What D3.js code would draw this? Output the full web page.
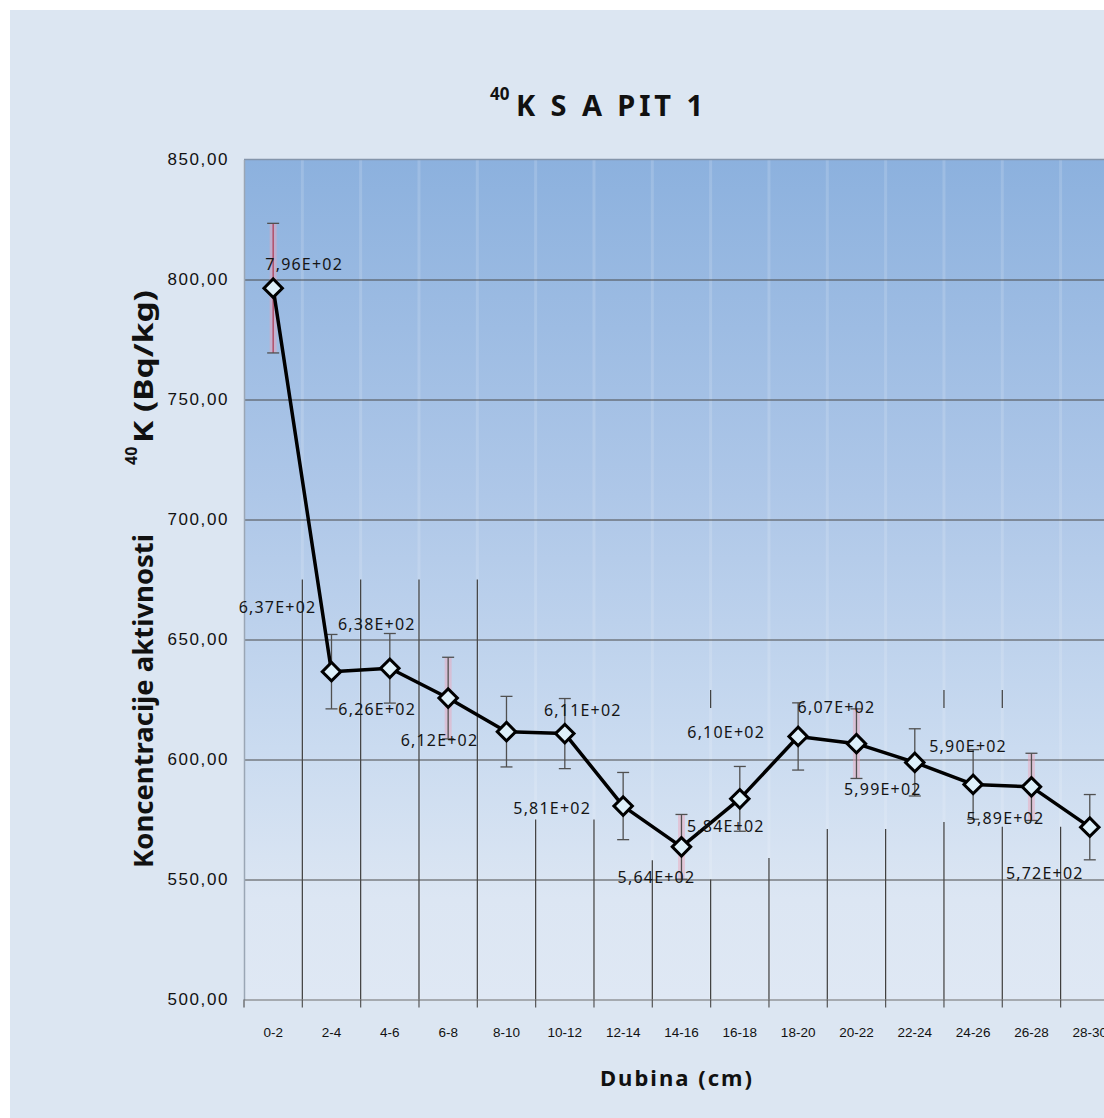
<!DOCTYPE html>
<html>
<head>
<meta charset="utf-8">
<script src="https://cdn.jsdelivr.net/npm/d3@7"></script>
<style>
  body { margin:0; background:#fff; }
  svg { display:block; font-family: "Noto Sans", "Open Sans", sans-serif; }
</style>
</head>
<body>
<div id="chart"></div>
<script>
// depth intervals and 40K activity (Bq/kg) with uncertainties
var depths = ["0-2","2-4","4-6","6-8","8-10","10-12","12-14","14-16","16-18","18-20","20-22","22-24","24-26","26-28","28-30"];
var activity = [796.4, 636.6, 638.0, 625.6, 611.6, 610.8, 580.6, 563.6, 583.6, 609.6, 606.6, 598.8, 589.6, 588.6, 571.8];
var uncertainty = [27, 15.5, 14.5, 17, 14.7, 14.6, 14, 13.5, 13.5, 14, 14.5, 14, 14.5, 14, 13.6];
var yTicks = [500, 550, 600, 650, 700, 750, 800, 850];

// label placement relative to each point (dx centre, dy baseline)
var labelOffset = [[31,-18],[-54,-59],[-13,-38],[-71,17],[-67,14],[18,-18],[-71,8],[-25,36],[-14,33],[-72,2],[-20,-31],[-32,33],[-5,-32],[-26,37],[-45,52]];
// where the darker vertical grid lines start (in data units), one per inner boundary
var vGridFrom = [675, 675, 675, 675, 575, 575, 558, 550, 559, 571, 571, 574, 572, 572];
var pinkBars = [0, 3, 7, 10, 13];

var W = 1104, H = 1118;
var margin = {top:159.5, left:244};
var bandW = 58.33;
var plotW = bandW * depths.length;
var plotB = 999.5;

var svg = d3.select("#chart").append("svg")
  .attr("width", W)
  .attr("height", H);

var defs = svg.append("defs");
var grad = defs.append("linearGradient")
  .attr("id","plotBg")
  .attr("x1",0).attr("y1",0).attr("x2",0).attr("y2",1);
grad.append("stop").attr("offset","0%").attr("stop-color","#8cb1de");
grad.append("stop").attr("offset","40%").attr("stop-color","#aec7e8");
grad.append("stop").attr("offset","70%").attr("stop-color","#cadbf0");
grad.append("stop").attr("offset","88%").attr("stop-color","#dce6f3");
grad.append("stop").attr("offset","100%").attr("stop-color","#dfe8f4");

// chart area
svg.append("rect")
  .attr("x",10).attr("y",10)
  .attr("width",W).attr("height",H)
  .attr("fill","#dce6f2");

var x = d3.scaleBand()
  .domain(depths)
  .range([margin.left, margin.left + plotW]);

var y = d3.scaleLinear()
  .domain([500, 850])
  .range([plotB, margin.top]);

svg.append("rect")
  .attr("x", margin.left).attr("y", margin.top)
  .attr("width", plotW).attr("height", plotB - margin.top)
  .attr("fill","url(#plotBg)");

var bounds = depths.slice(1).map(function(d){ return x(d); });

// faint light gridlines
svg.append("g").selectAll("line")
  .data(bounds)
  .enter().append("line")
  .attr("x1", function(d){ return d; })
  .attr("x2", function(d){ return d; })
  .attr("y1", margin.top)
  .attr("y2", plotB)
  .style("stroke","#ffffff")
  .style("stroke-opacity",0.15)
  .style("stroke-width",3);

// darker vertical gridlines (lower part)
svg.append("g").selectAll("line")
  .data(bounds)
  .enter().append("line")
  .attr("x1", function(d){ return d; })
  .attr("x2", function(d){ return d; })
  .attr("y1", function(d,i){ return y(vGridFrom[i]); })
  .attr("y2", plotB)
  .style("stroke","#3c3c3c")
  .style("stroke-width",1.2);

// short fragments
svg.append("g").selectAll("line")
  .data([7, 11, 12])
  .enter().append("line")
  .attr("x1", function(d){ return bounds[d]; })
  .attr("x2", function(d){ return bounds[d]; })
  .attr("y1", y(629))
  .attr("y2", y(621.5))
  .style("stroke","#3c3c3c")
  .style("stroke-width",1.2);

// horizontal gridlines
var hGrid = svg.append("g")
  .attr("transform","translate(" + margin.left + ",0)")
  .call(d3.axisLeft(y).tickValues(yTicks.slice(1, -1)).tickSize(-plotW).tickFormat(""));
hGrid.select(".domain").remove();
hGrid.selectAll(".tick line").style("stroke","#4a4a4a").style("stroke-width",1);

// top border
svg.append("line")
  .attr("x1", margin.left).attr("x2", margin.left + plotW)
  .attr("y1", y(850)).attr("y2", y(850))
  .style("stroke","#8495ab").style("stroke-width",1.5);

// y axis
var yAxis = svg.append("g")
  .attr("transform","translate(" + margin.left + ",0)")
  .call(d3.axisLeft(y).tickValues(yTicks).tickSize(0).tickPadding(15)
    .tickFormat(function(d){ return d.toFixed(2).replace(".", ","); }));
yAxis.select(".domain").style("stroke","#9aa6b5").style("stroke-width",1.5);
yAxis.selectAll("text")
  .style("font-size","17px")
  .style("letter-spacing","1.6px")
  .style("fill","#111");

// x axis
var xAxis = svg.append("g")
  .attr("transform","translate(0," + plotB + ")")
  .call(d3.axisBottom(x).tickSize(0).tickPadding(28));
xAxis.select(".domain").style("stroke","#6f6f6f").style("stroke-width",1.2);
xAxis.selectAll("text")
  .style("font-size","13.5px")
  .style("fill","#111");

svg.append("g").selectAll("line")
  .data([margin.left].concat(bounds))
  .enter().append("line")
  .attr("x1", function(d){ return d; })
  .attr("x2", function(d){ return d; })
  .attr("y1", plotB)
  .attr("y2", plotB + 8)
  .style("stroke","#555")
  .style("stroke-width",1.2);

var cx = function(i){ return x(depths[i]) + x.bandwidth() / 2; };

// error bars
var errG = svg.append("g");
errG.selectAll(".glow")
  .data(pinkBars)
  .enter().append("line")
  .attr("x1", function(i){ return cx(i); })
  .attr("x2", function(i){ return cx(i); })
  .attr("y1", function(i){ return y(activity[i] + uncertainty[i]); })
  .attr("y2", function(i){ return y(activity[i] - uncertainty[i]); })
  .style("stroke","#f0a4b8")
  .style("stroke-opacity",0.45)
  .style("stroke-width",7);

var bars = errG.selectAll(".bar")
  .data(activity)
  .enter().append("g");
bars.append("line")
  .attr("x1", function(d,i){ return cx(i); })
  .attr("x2", function(d,i){ return cx(i); })
  .attr("y1", function(d,i){ return y(d + uncertainty[i]); })
  .attr("y2", function(d,i){ return y(d - uncertainty[i]); })
  .style("stroke", function(d,i){ return i === 0 ? "#b0405a" : "#505050"; })
  .style("stroke-width",1.3);
[1, -1].forEach(function(s){
  bars.append("line")
    .attr("x1", function(d,i){ return cx(i) - 6; })
    .attr("x2", function(d,i){ return cx(i) + 6; })
    .attr("y1", function(d,i){ return y(d + s * uncertainty[i]); })
    .attr("y2", function(d,i){ return y(d + s * uncertainty[i]); })
    .style("stroke","#505050")
    .style("stroke-width",1.3);
});

// line
var line = d3.line()
  .x(function(d,i){ return cx(i); })
  .y(function(d){ return y(d); });

svg.append("path")
  .datum(activity)
  .attr("d", line)
  .style("fill","none")
  .style("stroke","#000")
  .style("stroke-width",3.5)
  .style("stroke-linejoin","round");

// diamond markers
svg.append("g").selectAll("path")
  .data(activity)
  .enter().append("path")
  .attr("d", d3.symbol().type(d3.symbolSquare).size(170))
  .attr("transform", function(d,i){ return "translate(" + cx(i) + "," + y(d) + ") rotate(45)"; })
  .style("fill","#def0fa")
  .style("stroke","#000")
  .style("stroke-width",3);

// data labels
var fmt = function(v){
  var p = v.toExponential(2).split("e");
  var e = +p[1];
  return p[0].replace(".", ",") + "E" + (e < 0 ? "-" : "+") + String(Math.abs(e)).padStart(2, "0");
};

svg.append("g").selectAll("text")
  .data(activity)
  .enter().append("text")
  .attr("x", function(d,i){ return cx(i) + labelOffset[i][0]; })
  .attr("y", function(d,i){ return y(d) + labelOffset[i][1]; })
  .attr("text-anchor","middle")
  .style("font-size","16px")
  .style("letter-spacing","1.2px")
  .style("fill","#151515")
  .text(fmt);

// title
svg.append("text")
  .attr("x", 490)
  .attr("y", 100)
  .style("font-size","17px")
  .style("font-weight","bold")
  .style("fill","#111")
  .text("40");
svg.append("text")
  .attr("x", 516)
  .attr("y", 116)
  .attr("textLength", 187)
  .attr("lengthAdjust","spacing")
  .style("font-size","29px")
  .style("font-weight","bold")
  .style("fill","#111")
  .text("K S A PIT 1");

// y axis title
svg.append("text")
  .attr("transform","translate(153,701) rotate(-90)")
  .attr("text-anchor","middle")
  .attr("textLength", 334)
  .attr("lengthAdjust","spacingAndGlyphs")
  .style("font-size","27px")
  .style("font-weight","bold")
  .style("fill","#111")
  .text("Koncentracije aktivnosti");

svg.append("text")
  .attr("transform","translate(137,465) rotate(-90)")
  .style("font-size","16px")
  .style("font-weight","bold")
  .style("fill","#111")
  .text("40");
svg.append("text")
  .attr("transform","translate(153,443) rotate(-90)")
  .attr("textLength", 153)
  .attr("lengthAdjust","spacingAndGlyphs")
  .style("font-size","27px")
  .style("font-weight","bold")
  .style("fill","#111")
  .text("K (Bq/kg)");

// x axis title
svg.append("text")
  .attr("x", 676)
  .attr("y", 1086)
  .attr("text-anchor","middle")
  .attr("textLength", 152)
  .attr("lengthAdjust","spacing")
  .style("font-size","22px")
  .style("font-weight","bold")
  .style("fill","#111")
  .text("Dubina (cm)");
</script>
</body>
</html>
